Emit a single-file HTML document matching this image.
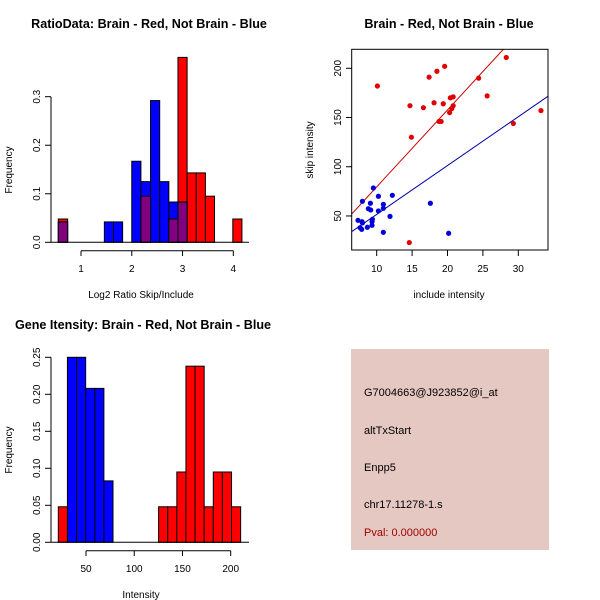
<!DOCTYPE html>
<html><head><meta charset="utf-8"><style>
html,body{margin:0;padding:0;background:#fff;}
svg{display:block;font-family:"Liberation Sans",sans-serif;}
</style></head><body>
<svg id="s" width="600" height="600" viewBox="0 0 600 600">
<rect width="600" height="600" fill="#fff"/>
<text x="149" y="28" font-size="12.6" font-weight="bold" text-anchor="middle">RatioData: Brain - Red, Not Brain - Blue</text>
<text x="449" y="28" font-size="12.6" font-weight="bold" text-anchor="middle">Brain - Red, Not Brain - Blue</text>
<text x="143" y="329" font-size="12.6" font-weight="bold" text-anchor="middle">Gene Itensity: Brain - Red, Not Brain - Blue</text>
<text x="141" y="298" font-size="10" text-anchor="middle">Log2 Ratio Skip/Include</text>
<text x="12" y="170" font-size="10" text-anchor="middle" transform="rotate(-90 12 170)">Frequency</text>
<text x="449" y="298" font-size="10" text-anchor="middle">include intensity</text>
<text x="313" y="150" font-size="10" text-anchor="middle" transform="rotate(-90 313 150)">skip intensity</text>
<text x="141" y="598" font-size="10" text-anchor="middle">Intensity</text>
<text x="12" y="450" font-size="10" text-anchor="middle" transform="rotate(-90 12 450)">Frequency</text>
<g>
<rect x="351" y="349" width="198" height="201" fill="#e6c8c2"/>
<text x="364" y="396" font-size="11" fill="#000">G7004663@J923852@i_at</text>
<text x="364" y="434" font-size="11" fill="#000">altTxStart</text>
<text x="364" y="471" font-size="11" fill="#000">Enpp5</text>
<text x="364" y="508" font-size="11" fill="#000">chr17.11278-1.s</text>
<text x="364" y="536" font-size="11" fill="#a00000">Pval: 0.000000</text>
</g>
</svg>
<script>
// Ratio histogram data [start,end,freq]
const ratioRed=[[0.553,0.737,0.048],[2.18,2.37,0.095],[2.73,2.91,0.048],[2.91,3.09,0.381],[3.09,3.27,0.143],[3.27,3.45,0.143],[3.45,3.63,0.095],[3.99,4.17,0.048]];
const ratioBlue=[[0.553,0.737,0.042],[1.46,1.64,0.042],[1.64,1.82,0.042],[2.00,2.18,0.167],[2.18,2.37,0.125],[2.37,2.55,0.292],[2.55,2.73,0.125],[2.73,2.91,0.083],[2.91,3.09,0.083]];
const ratioXTicks=[1,2,3,4];
const ratioYTicks=["0.0","0.1","0.2","0.3"];
// Intensity histogram
const intStart=21.3, intWidth=9.45;
const intRedBins=[0,11,12,13,14,15,16,17,18,19];
const intRed=[0.048,0.048,0.048,0.095,0.238,0.238,0.048,0.095,0.095,0.048];
const intBlueBins=[1,2,3,4,5];
const intBlue=[0.25,0.25,0.208,0.208,0.083];
const intXTicks=[50,100,150,200];
const intYTicks=["0.00","0.05","0.10","0.15","0.20","0.25"];
// Scatter
const redX=[10.1,14.7,14.9,16.6,17.4,18.1,18.5,18.8,19.1,19.4,19.6,20.3,20.4,20.6,20.8,20.8,24.4,25.6,28.3,29.3,33.2,14.6];
const redY=[182,162,130,160,191,165,197,146,146,164,202,155,170,159,171,162,190,172,211,144,157,23];
const blueX=[7.36,7.93,7.65,7.88,7.98,7.98,8.68,8.82,9.11,9.15,9.34,9.34,9.39,9.53,10.24,10.24,10.94,10.94,10.94,11.88,12.21,17.58,20.16];
const blueY=[45.6,44.2,38.1,36.4,42.9,64.9,38.5,57.4,62.9,56.1,44.2,40.5,46.6,78.4,70.0,55.1,61.8,57.8,33.4,49.6,71.0,62.9,32.4];
const redFit=[1.47,7.81]; // intercept, slope
const blueFit=[2.0,4.96];
const scXTicks=[10,15,20,25,30];
const scYTicks=[50,100,150,200];

const NS="http://www.w3.org/2000/svg";
const svg=document.getElementById('s');
function mk(tag,at,parent){const e=document.createElementNS(NS,tag);for(const k in at)e.setAttribute(k,at[k]);(parent||svg).appendChild(e);return e;}
function txt(x,y,s,size,anchor,rot,parent){const t=mk('text',{x:x,y:y,'font-size':size,'text-anchor':anchor},parent);if(rot)t.setAttribute('transform','rotate(-90 '+x+' '+y+')');t.textContent=s;return t;}

// ---- Ratio histogram ----
(function(){
const g=mk('g',{});


const sx=v=>81+(v-1)*50.77, sy=v=>242.3-v*(145.6/0.3);
function bar(b,col,name){const r=mk('rect',{x:sx(b[0]),y:sy(b[2]),width:sx(b[1])-sx(b[0]),height:sy(0)-sy(b[2]),fill:col,stroke:'#000','stroke-width':1},g);

}
ratioRed.forEach(b=>bar(b,'#ff0000','ratio-red-bar'));
ratioBlue.forEach(b=>bar(b,'#0000ff','ratio-blue-bar'));
ratioBlue.forEach(b=>{ratioRed.forEach(r=>{const a=Math.max(b[0],r[0]),c=Math.min(b[1],r[1]);if(c-a>0.05){bar([a,c,Math.min(b[2],r[2])],'#800080','ratio-overlap-bar');}});});
mk('line',{x1:51,y1:sy(0),x2:249,y2:sy(0),stroke:'#000'},g);
mk('line',{x1:51,y1:sy(0),x2:51,y2:sy(0.3),stroke:'#000'},g);
ratioYTicks.forEach(t=>{const y=sy(+t);mk('line',{x1:45,y1:y,x2:51,y2:y,stroke:'#000'},g);txt(40,y,t,10,'middle',true,g);});
mk('line',{x1:sx(1),y1:250.7,x2:sx(4),y2:250.7,stroke:'#000'},g);
ratioXTicks.forEach(t=>{const x=sx(t);mk('line',{x1:x,y1:250.7,x2:x,y2:256,stroke:'#000'},g);txt(x,272,String(t),10,'middle',false,g);});
})();

// ---- Intensity histogram ----
(function(){
const g=mk('g',{});


const sx=v=>86+(v-50)*0.9647, sy=v=>542.3-v*(185/0.25);
function bar(k,v,col,name){const a=intStart+k*intWidth;const r=mk('rect',{x:sx(a),y:sy(v),width:sx(a+intWidth)-sx(a),height:sy(0)-sy(v),fill:col,stroke:'#000','stroke-width':1},g);

}
intRedBins.forEach((k,i)=>bar(k,intRed[i],'#ff0000','intensity-red-bar'));
intBlueBins.forEach((k,i)=>bar(k,intBlue[i],'#0000ff','intensity-blue-bar'));
mk('line',{x1:51,y1:sy(0),x2:249,y2:sy(0),stroke:'#000'},g);
mk('line',{x1:51,y1:sy(0),x2:51,y2:sy(0.25),stroke:'#000'},g);
intYTicks.forEach(t=>{const y=sy(+t);mk('line',{x1:45,y1:y,x2:51,y2:y,stroke:'#000'},g);txt(40,y,t,10,'middle',true,g);});
mk('line',{x1:sx(50),y1:550.7,x2:sx(200),y2:550.7,stroke:'#000'},g);
intXTicks.forEach(t=>{const x=sx(t);mk('line',{x1:x,y1:550.7,x2:x,y2:556,stroke:'#000'},g);txt(x,572,String(t),10,'middle',false,g);});
})();

// ---- Scatter ----
(function(){
const g=mk('g',{});


const sx=v=>376.7+(v-10)*7.08, sy=v=>68.3+(200-v)*0.9844;
const clip=mk('clipPath',{id:'cp'},g);mk('rect',{x:351.7,y:49.3,width:196.3,height:200.7},clip);
const lr=mk('line',{x1:sx(6),y1:sy(redFit[0]+redFit[1]*6),x2:sx(35),y2:sy(redFit[0]+redFit[1]*35),stroke:'#cc0000','clip-path':'url(#cp)'},g);


const lb=mk('line',{x1:sx(6),y1:sy(blueFit[0]+blueFit[1]*6),x2:sx(35),y2:sy(blueFit[0]+blueFit[1]*35),stroke:'#0000aa','clip-path':'url(#cp)'},g);


redX.forEach((x,i)=>{const c=mk('circle',{cx:sx(x),cy:sy(redY[i]),r:2.6,fill:'#e00000'},g);

});
blueX.forEach((x,i)=>{const c=mk('circle',{cx:sx(x),cy:sy(blueY[i]),r:2.6,fill:'#0000dd'},g);

});
mk('rect',{x:351.7,y:49.3,width:196.3,height:200.7,fill:'none',stroke:'#000'},g);
scXTicks.forEach(t=>{const x=sx(t);mk('line',{x1:x,y1:250,x2:x,y2:256,stroke:'#000'},g);txt(x,272,String(t),10,'middle',false,g);});
scYTicks.forEach(t=>{const y=sy(t);mk('line',{x1:346,y1:y,x2:351.7,y2:y,stroke:'#000'},g);txt(341,y,String(t),10,'middle',true,g);});
})();
</script>
</body></html>
